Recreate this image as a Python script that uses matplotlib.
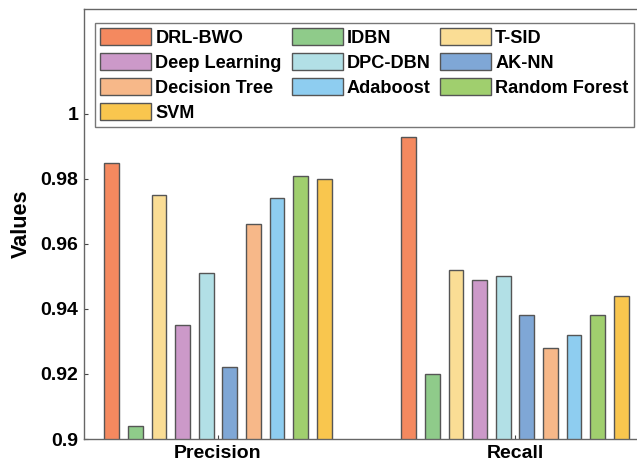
import numpy as np
import matplotlib
matplotlib.use('Agg')
import matplotlib.pyplot as plt
from matplotlib.ticker import FuncFormatter

plt.rcParams['font.family'] = ['Liberation Sans', 'DejaVu Sans']
plt.rcParams['font.weight'] = 'bold'

metrics = ['Precision', 'Recall']
methods = ['DRL-BWO', 'IDBN', 'T-SID', 'Deep Learning', 'DPC-DBN', 'AK-NN',
           'Decision Tree', 'Adaboost', 'Random Forest', 'SVM']
precision = [0.985, 0.904, 0.975, 0.935, 0.951, 0.922, 0.966, 0.974, 0.981, 0.980]
recall = [0.993, 0.920, 0.952, 0.949, 0.950, 0.938, 0.928, 0.932, 0.938, 0.944]
colors = ['#F4895F', '#8FCB8A', '#FADD95', '#CC99C9', '#B2E0E6', '#7FA7D6',
          '#F7B889', '#8ECDF0', '#A0CF6E', '#F9C64E']

fig = plt.figure(figsize=(6.37, 4.74), dpi=100)
ax = fig.add_axes([84 / 637, 1 - 439 / 474, 565 / 637, 430 / 474])

x = np.arange(1, len(metrics) + 1)
pitch = 0.0795
width = 0.05
handles = []
for i, m in enumerate(methods):
    vals = [precision[i], recall[i]]
    b = ax.bar(x + (i - 4.5) * pitch, vals, width, color=colors[i],
               edgecolor='#555555', linewidth=1.0, label=m, zorder=2)
    handles.append(b)

ax.set_ylim(0.9, 1.0323)
ax.set_xlim(0.549, 2.451)
ax.set_yticks([0.9, 0.92, 0.94, 0.96, 0.98, 1.0])
ax.yaxis.set_major_formatter(FuncFormatter(lambda v, p: '%g' % round(v, 3)))
ax.set_xticks(x)
ax.set_xticklabels(metrics)
ax.tick_params(direction='in', length=3, width=0.8, colors='#444444',
               labelcolor='black', labelsize=14, pad=4)
for lbl in ax.get_xticklabels() + ax.get_yticklabels():
    lbl.set_fontweight('bold')
for s in ax.spines.values():
    s.set_color('#666666')
    s.set_linewidth(1.0)
ax.set_ylabel('Values', fontsize=15.5, fontweight='bold', labelpad=6)

order = [0, 3, 6, 9, 1, 4, 7, 2, 5, 8]
leg = ax.legend([handles[k] for k in order], [methods[k] for k in order],
                ncol=3, loc='upper left', bbox_to_anchor=(95 / 637, 1 - 23 / 474),
                bbox_transform=fig.transFigure, borderaxespad=0,
                fontsize=13.1, frameon=True, fancybox=False, edgecolor='#555555',
                handlelength=2.8, handleheight=1.05, handletextpad=0.22,
                columnspacing=0.54, labelspacing=0.34, borderpad=0.3)
leg.get_frame().set_linewidth(1.0)
for t in leg.get_texts():
    t.set_fontweight('bold')

fig.savefig('out.png', dpi=100)
